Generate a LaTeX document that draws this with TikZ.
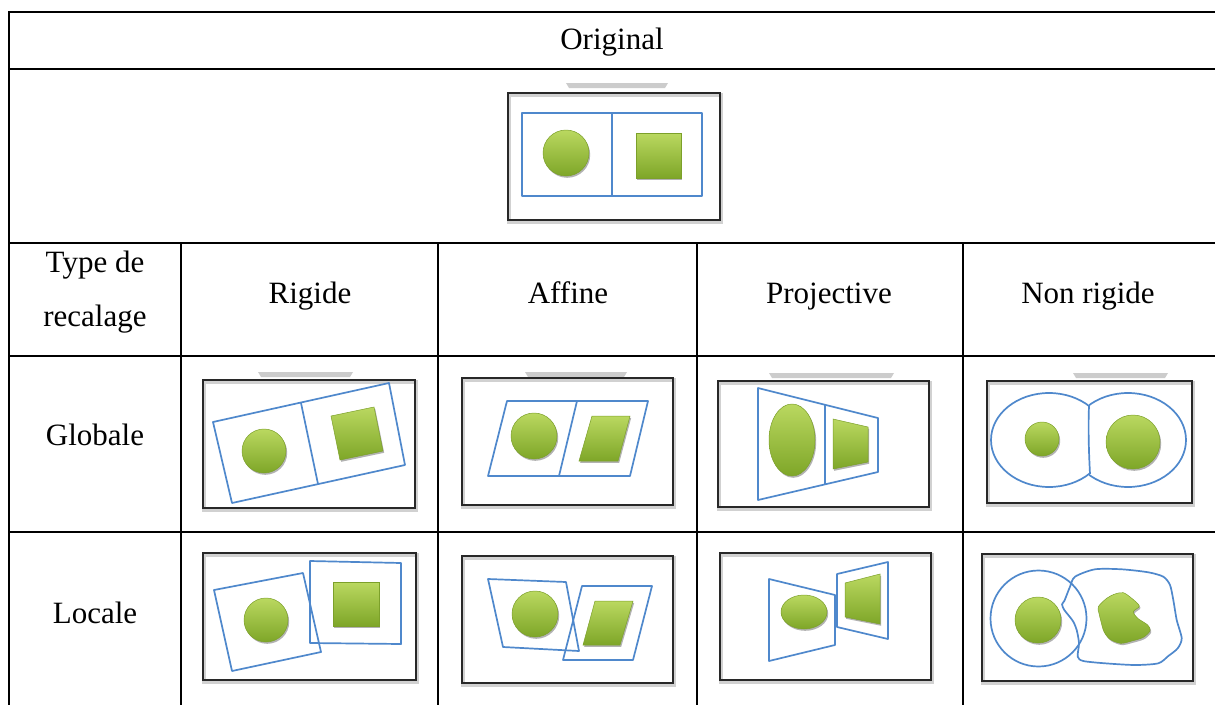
\documentclass[tikz,border=0pt]{standalone}
\usepackage{fontspec}
\setmainfont{Liberation Serif}
\usetikzlibrary{shadows}

\definecolor{lineblue}{RGB}{79,136,204}
\definecolor{gTop}{RGB}{186,216,96}
\definecolor{gMid}{RGB}{157,197,62}
\definecolor{gBot}{RGB}{126,166,40}
\definecolor{gEdge}{RGB}{124,160,42}
\definecolor{frameink}{RGB}{40,40,40}

% thumbnail frame: x1 y1 x2 y2
\newcommand\thumbframe[4]{%
  \draw[frameshadow] (#1+1,#2+1.5) rectangle (#3+1,#4+1.5);
  \draw[frameline] (#1,#2) rectangle (#3,#4);}
% grey tab above a thumbnail: x1 x2 y-top
\newcommand\thumbtab[3]{%
  \fill[tabgray] (#1,#3) -- (#2,#3) -- (#2-3,#3+5) -- (#1+3,#3+5) -- cycle;}

\begin{document}
\begin{tikzpicture}[x=1pt,y=-1pt,
  rule/.style={line width=2pt, draw=black, line cap=rect},
  lbl/.style={font=\fontsize{31}{37}\selectfont, inner sep=0pt, anchor=base},
  frameline/.style={draw=frameink, line width=2.4pt},
  frameshadow/.style={draw=black!18, line width=4pt},
  tabgray/.style={fill=black!20},
  blueline/.style={draw=lineblue, line width=1.7pt, line join=round},
  greenbody/.style={top color=gTop, middle color=gMid, bottom color=gBot,
    draw=gEdge, line width=0.5pt,
    drop shadow={shadow xshift=1.2pt, shadow yshift=-1.8pt, opacity=0.3, fill=black}},
]
\useasboundingbox (0,0) rectangle (1215,704);
\fill[white] (0,0) rectangle (1215,704);

% ---- table rules ----
\draw[rule] (9,12) -- (1215,12);
\draw[rule] (9,69) -- (1215,69);
\draw[rule] (9,243) -- (1215,243);
\draw[rule] (9,356) -- (1215,356);
\draw[rule] (9,532) -- (1215,532);
\draw[rule] (9,12) -- (9,704);
\draw[rule] (181,243) -- (181,704);
\draw[rule] (438,243) -- (438,704);
\draw[rule] (697,243) -- (697,704);
\draw[rule] (963,243) -- (963,704);

% ---- labels ----
\node[lbl] (orig) at (612,49) {Original};
\node[lbl] (type1) at (95,272) {Type de};
\node[lbl] (type2) at (95,326) {recalage};
\node[lbl] (rig) at (310,303) {Rigide};
\node[lbl] (aff) at (568,303) {Affine};
\node[lbl] (proj) at (829,303) {Projective};
\node[lbl] (nonrig) at (1088,303) {Non rigide};
\node[lbl] (glob) at (95,445) {Globale};
\node[lbl] (loc) at (95,623) {Locale};

% ---- original ----
\thumbtab{566}{668}{83}
\thumbframe{508}{93}{720}{220}
\draw[blueline] (522,113) rectangle (702,196);
\draw[blueline] (612,113) -- (612,196);
\path[greenbody] (566,153) circle (23);
\path[greenbody] (636,133) rectangle (681,178);

% ---- global / rigid ----
\thumbtab{258}{353}{372}
\thumbframe{203}{380}{415}{508}
\draw[blueline] (213,422) -- (389,383) -- (405,465) -- (232,503) -- cycle;
\draw[blueline] (301,403) -- (318,484);
\path[greenbody] (264,451) circle (22);
\path[greenbody] (331,416) -- (374,407) -- (383,451) -- (340,460) -- cycle;

% ---- global / affine ----
\thumbtab{525}{627}{372}
\thumbframe{462}{378}{673}{505}
\draw[blueline] (507,401) -- (648,401) -- (630,476) -- (488,476) -- cycle;
\draw[blueline] (577,401) -- (559,476);
\path[greenbody] (534,436) circle (23);
\path[greenbody] (592,416) -- (630,416) -- (618,461) -- (579,461) -- cycle;

% ---- global / projective ----
\thumbtab{769}{894}{373}
\thumbframe{718}{381}{929}{507}
\draw[blueline] (758,388) -- (878,418) -- (878,472) -- (758,500) -- cycle;
\draw[blueline] (825,405) -- (825,484);
\path[greenbody] (792,440) ellipse [x radius=23, y radius=36];
\path[greenbody] (833,419) -- (868,427) -- (868,462) -- (833,469) -- cycle;

% ---- global / non rigid ----
\thumbtab{1073}{1168}{373}
\thumbframe{987}{381}{1192}{503}
\begin{scope}
  \clip (980,370) rectangle (1089,510);
  \draw[blueline] (1049,440) ellipse [x radius=58, y radius=47];
\end{scope}
\begin{scope}
  \clip (1089,370) rectangle (1200,510);
  \draw[blueline] (1128,440) ellipse [x radius=58, y radius=47];
\end{scope}
\draw[blueline] (1089,406) .. controls (1088,430) and (1089,455) .. (1090,474);
\path[greenbody] (1042,439) circle (17);
\path[greenbody] (1133,442) circle (27);

% ---- local / rigid ----
\thumbframe{203}{553}{416}{680}
\draw[blueline] (214,590) -- (303,573) -- (321,652) -- (232,671) -- cycle;
\draw[blueline] (310,561) -- (401,563) -- (401,644) -- (310,643) -- cycle;
\path[greenbody] (266,620) circle (22);
\path[greenbody] (333,582) rectangle (379,626);

% ---- local / affine ----
\thumbframe{462}{556}{673}{683}
\draw[blueline] (488,579) -- (566,582) -- (579,651) -- (503,647) -- cycle;
\draw[blueline] (582,586) -- (652,586) -- (633,660) -- (563,660) -- cycle;
\path[greenbody] (535,614) circle (23);
\path[greenbody] (595,601) -- (633,601) -- (620,645) -- (583,645) -- cycle;

% ---- local / projective ----
\thumbframe{720}{553}{931}{680}
\draw[blueline] (769,579) -- (835,595) -- (835,645) -- (769,661) -- cycle;
\draw[blueline] (837,574) -- (888,562) -- (888,639) -- (837,627) -- cycle;
\path[greenbody] (804,612) ellipse [x radius=23, y radius=17];
\path[greenbody] (845,583) -- (880,574) -- (880,624) -- (845,617) -- cycle;

% ---- local / non rigid ----
\thumbframe{982}{554}{1193}{681}
\draw[blueline] (1038.5,618.5) circle (48);
\draw[blueline] plot[smooth cycle, tension=0.45] coordinates {
  (1075,576.7) (1095,569.3) (1121.7,569.3) (1148.3,572.3) (1163.3,576.7)
  (1170,585) (1173.3,600) (1176.7,620) (1181.7,638.3) (1177.7,648.3)
  (1168.3,656) (1158.3,663.3) (1135,665) (1105,663.3) (1083.3,661)
  (1077.7,656.7) (1079,643.3) (1076.7,630) (1073.3,621.7) (1068.3,615)
  (1064.3,610) (1062,604.5) (1064.3,601) (1066.7,595) (1070,586.7)};
\path[greenbody] (1038,620) circle (23);
\path[greenbody] plot[smooth cycle, tension=0.5] coordinates {
  (1098.3,606.7) (1106.7,598.3) (1115,594) (1123.3,592.7) (1131.7,598.3)
  (1139.3,606) (1133.3,611.7) (1137.7,618.3) (1147.7,625) (1150,630.7)
  (1143.3,637.3) (1131.7,641) (1120.7,643.3) (1110,639.3) (1104,631.7)
  (1101,621.7) (1099,613.3)};
\end{tikzpicture}
\end{document}
